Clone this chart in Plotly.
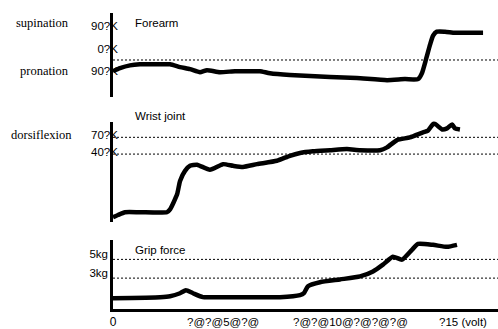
import plotly.graph_objects as go

# Forearm rotation (deg; supination positive, pronation negative) vs. input voltage
forearm_volt = [0.00, 0.31, 0.75, 1.19, 1.85, 2.52, 2.96, 3.40, 3.84, 4.15, 4.72, 5.39, 6.05,
                6.49, 6.93, 7.81, 8.70, 9.58, 10.77, 12.10, 12.89, 13.47, 13.64, 13.82,
                14.00, 14.13, 14.30, 14.66, 15.10, 15.76, 16.34]
forearm_deg = [-89, -77, -66, -62, -62, -62, -73, -81, -93, -85, -93, -89, -89,
               -89, -97, -104, -108, -112, -116, -124, -120, -120, -97, -43,
               15, 50, 66, 66, 62, 62, 62]

# Wrist joint flexion (deg; dorsiflexion positive)
wrist_volt = [0.00, 0.22, 0.53, 1.19, 2.38, 2.52, 2.83, 2.96, 3.18, 3.40, 3.71, 4.28, 4.86,
              5.30, 5.74, 6.36, 7.24, 7.81, 8.26, 8.83, 9.58, 10.33, 10.91, 11.79, 12.10,
              12.54, 13.11, 13.69, 13.91, 14.17, 14.53, 14.75, 14.97, 15.10, 15.32]
wrist_deg = [-73, -69, -64, -64, -64, -59, -32, -8, 10, 19, 21, 12, 22,
             19, 17, 22, 28, 37, 42, 45, 47, 49, 47, 47, 52,
             65, 70, 79, 82, 95, 84, 86, 93, 86, 84]

# Grip force (kg)
grip_volt = [0.00, 2.08, 2.52, 2.96, 3.22, 3.53, 3.97, 4.59, 6.49, 7.37, 8.26, 8.43, 8.61,
             9.14, 10.02, 10.91, 11.48, 11.92, 12.36, 12.76, 13.20, 13.47, 14.13, 14.75, 15.19]
grip_kg = [0.86, 0.97, 1.07, 1.39, 1.71, 1.39, 0.97, 0.97, 0.97, 0.97, 1.18, 1.39, 2.13,
           2.56, 2.86, 3.18, 3.71, 4.44, 5.28, 4.97, 6.02, 6.65, 6.55, 6.34, 6.55]

# Axis labels
forearm_ticks = [90, 0, -90]
forearm_ticktext = ["90?K", "0?K", "90?K"]
wrist_ticks = [70, 40]
wrist_ticktext = ["70?K", "40?K"]
grip_ticks = [5, 3]
grip_ticktext = ["5kg", "3kg"]
forearm_ref = [-45]
volt_label_pos = [4.86, 10.5, 15.45]
volt_label_text = ["?@?@5@?@", "?@?@10@?@?@?@", "?15 (volt)"]

SANS = "Liberation Sans, Arial, sans-serif"
SERIF = "Liberation Serif, Times New Roman, serif"
stroke = dict(color="black", width=4.5, shape="spline", smoothing=0.5)

fig = go.Figure()
fig.add_trace(go.Scatter(x=forearm_volt, y=forearm_deg, mode="lines", line=stroke,
                         xaxis="x", yaxis="y", showlegend=False, hoverinfo="skip"))
fig.add_trace(go.Scatter(x=wrist_volt, y=wrist_deg, mode="lines", line=stroke,
                         xaxis="x", yaxis="y2", showlegend=False, hoverinfo="skip"))
fig.add_trace(go.Scatter(x=grip_volt, y=grip_kg, mode="lines", line=stroke,
                         xaxis="x", yaxis="y3", showlegend=False, hoverinfo="skip"))

# dotted reference lines
dotted = dict(color="black", width=1, dash="2px,2px")
shapes = []
for v in forearm_ref:
    shapes.append(dict(type="line", xref="x domain", x0=0, x1=1, yref="y", y0=v, y1=v, line=dotted))
for v in wrist_ticks:
    shapes.append(dict(type="line", xref="x domain", x0=0, x1=1, yref="y2", y0=v, y1=v, line=dotted))
for v in grip_ticks:
    shapes.append(dict(type="line", xref="x domain", x0=0, x1=1, yref="y3", y0=v, y1=v, line=dotted))

yax = dict(anchor="x", showline=True, linewidth=2.5, linecolor="black", showgrid=False,
           zeroline=False, ticks="", tickfont=dict(family=SANS, size=11.5, color="black"))

annotations = []
def note(text, x, y, anchor="left", family=SANS, size=11.5):
    annotations.append(dict(text=text, x=x, y=y, xref="paper", yref="paper", xanchor=anchor,
                            yanchor="middle", showarrow=False,
                            font=dict(family=family, size=size, color="black")))

# panel titles
note("Forearm", 0.052, 0.967)
note("Wrist joint", 0.052, 0.6533)
note("Grip force", 0.052, 0.200)
# direction labels
note("supination", -0.108, 0.967, anchor="right", family=SERIF, size=12.5)
note("pronation", -0.108, 0.803, anchor="right", family=SERIF, size=12.5)
note("dorsiflexion", -0.101, 0.587, anchor="right", family=SERIF, size=12.5)

# voltage axis labels
for pos, txt in zip(volt_label_pos, volt_label_text):
    annotations.append(dict(text=txt, x=pos, y=-0.018, xref="x", yref="paper", xanchor="center",
                            yanchor="top", showarrow=False,
                            font=dict(family=SANS, size=11.5, color="black")))

fig.update_layout(
    width=498, height=329,
    margin=dict(l=113, r=0, t=13, b=16),
    paper_bgcolor="white", plot_bgcolor="white",
    font=dict(family=SANS, size=11.5, color="black"),
    xaxis=dict(domain=[0, 1], range=[0, 17], anchor="y3", showline=True, linewidth=3,
               linecolor="black", showgrid=False, zeroline=False, ticks="",
               tickvals=[0], ticktext=["0"], tickfont=dict(family=SANS, size=12, color="black")),
    yaxis=dict(yax, domain=[0.7167, 1.0], range=[-189.6, 139.3],
               tickvals=forearm_ticks, ticktext=forearm_ticktext, ticklabelstandoff=-10),
    yaxis2=dict(yax, domain=[0.2933, 0.6333], range=[-81.8, 98.2],
                tickvals=wrist_ticks, ticktext=wrist_ticktext, ticklabelstandoff=-10,
                ticklabelshift=-2),
    yaxis3=dict(yax, domain=[0, 0.2333], range=[-0.295, 7.074],
                tickvals=grip_ticks, ticktext=grip_ticktext, ticklabelstandoff=0,
                ticklabelshift=-5),
    shapes=shapes,
    annotations=annotations,
)

fig.write_html("out.html")
